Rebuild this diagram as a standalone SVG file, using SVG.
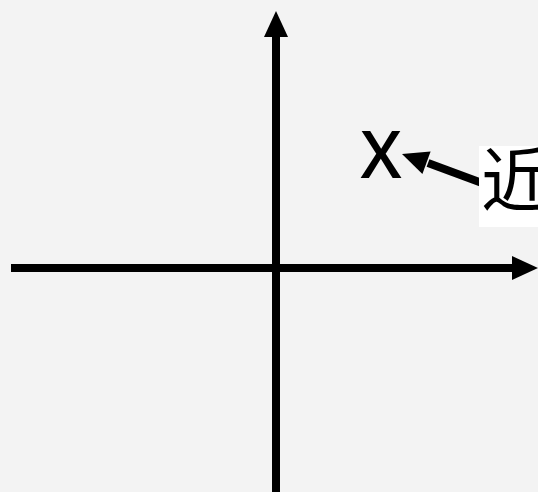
<svg xmlns="http://www.w3.org/2000/svg" width="538" height="492" viewBox="0 0 538 492">
  <style>
    .axis { stroke: #000; stroke-width: 8; fill: none; }
    .lbl { font-family: "Open Sans", "Liberation Sans", sans-serif; font-weight: 600; fill: #000; }
    .cjk { font-family: "Noto Sans CJK SC", "Noto Sans CJK JP", sans-serif; fill: #000; }
  </style>
  <defs>
    <marker id="ah" markerUnits="userSpaceOnUse" markerWidth="26" markerHeight="26" viewBox="0 0 26 26" refX="2" refY="13" orient="auto">
      <path d="M0,1 L26,13 L0,25 Z" fill="#000"/>
    </marker>
  </defs>
  <rect x="0" y="0" width="538" height="492" fill="#f3f3f3"/>
  <g id="connectors">
    <line class="axis" x1="11" y1="268" x2="514" y2="268" marker-end="url(#ah)"/>
    <line class="axis" x1="276" y1="492" x2="276" y2="35" marker-end="url(#ah)"/>
    <line class="axis" x1="482" y1="183" x2="428" y2="163"/>
    <polygon points="402,154 430.6,151.5 422.4,174.1" fill="#000"/>
  </g>
  <g id="node-x">
    <text class="lbl" x="381" y="178" font-size="66" text-anchor="middle">X</text>
  </g>
  <g id="node-jin">
    <rect x="479" y="146" width="70" height="81" fill="#fff"/>
    <text class="cjk" x="481" y="206" font-size="70">近</text>
  </g>
</svg>
